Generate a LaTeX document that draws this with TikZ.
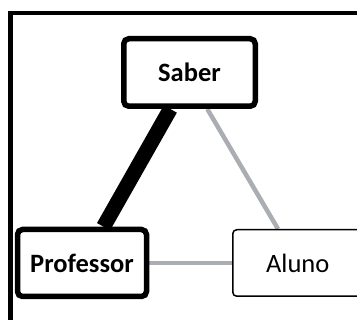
\documentclass[tikz,border=0pt]{standalone}
\usepackage{fontspec}
\setmainfont{Carlito}
\usetikzlibrary{calc,backgrounds}
\definecolor{linkgray}{RGB}{170,173,178}
\tikzset{
  boxbase/.style={rectangle, fill=white, inner sep=0pt, font=\fontsize{26.5}{31}\selectfont, draw=black},
  strongbox/.style={boxbase, line width=5.5pt, rounded corners=5pt, font=\fontsize{26.5}{31}\selectfont\bfseries},
  weakbox/.style={boxbase, line width=1.5pt, rounded corners=4pt},
  stronglink/.style={line width=15pt, black},
  weaklink/.style={line width=4.5pt, linkgray},
}
\begin{document}
\begin{tikzpicture}[x=1pt,y=-1pt]
\useasboundingbox (0,0) rectangle (357,320);
\clip (0,0) rectangle (357,320);
% frame
\draw[line width=4.5pt] (10.5,400) -- (10.5,13) -- (400,13);
% nodes
\node[strongbox, minimum width=131.5pt, minimum height=67.5pt] (saber) at (189.5,72.5) {Saber};
\node[strongbox, minimum width=129pt, minimum height=67pt] (prof) at (82,263) {Professor};
\node[weakbox, minimum width=130pt, minimum height=66.5pt] (aluno) at (297.75,263) {Aluno};
% connectors (behind boxes)
\begin{pgfonlayer}{background}
\draw[stronglink] ($(saber.south west)!0.36!(saber.south east)$) -- ($(prof.north west)!0.66!(prof.north east)$);
\draw[weaklink] ($(saber.south west)!0.63!(saber.south east)$) -- ($(aluno.north west)!0.35!(aluno.north east)$);
\draw[weaklink] (prof.east) -- (aluno.west);
\end{pgfonlayer}
\end{tikzpicture}
\end{document}
